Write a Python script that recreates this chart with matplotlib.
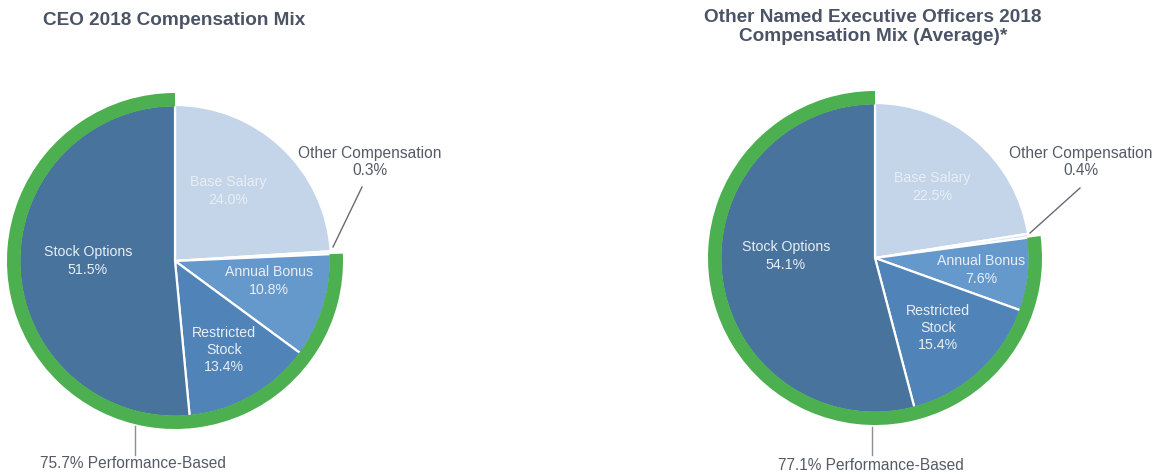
import matplotlib
matplotlib.use("Agg")
import matplotlib.pyplot as plt

# ---- data ----
categories = ["Base Salary", "Other Compensation", "Annual Bonus", "Restricted\nStock", "Stock Options"]
performance_based = [False, False, True, True, True]
ceo_values = [24.0, 0.3, 10.8, 13.4, 51.5]
neo_values = [22.5, 0.4, 7.6, 15.4, 54.1]
titles = ["CEO 2018 Compensation Mix",
          "Other Named Executive Officers 2018\nCompensation Mix (Average)*"]

# ---- style ----
W, H = 1160, 474
colors = ["#c4d5ea", "#dde6f1", "#6599cc", "#5084b8", "#48739c"]
green = "#4caf50"
title_color = "#4b5466"
text_gray = "#555b66"
label_white = "#e8eef6"
plt.rcParams["font.family"] = ["Liberation Sans", "DejaVu Sans"]

fig = plt.figure(figsize=(W / 100, H / 100), dpi=100)
ax = fig.add_axes([0, 0, 1, 1])
ax.set_xlim(0, W)
ax.set_ylim(0, H)
ax.set_aspect("equal")
ax.axis("off")


def Y(y):
    return H - y


layouts = [
    dict(center=(175, 261), r=156, ring_out=168,
         labels=[(228, 191), None, (269, 281), (224, 350), (88, 261)],
         other_text=(370, 162), other_line=((362, 187), (333, 247)),
         perf_text=(40, 463), perf_line=(135, 426, 455),
         title=(43, 20, "left")),
    dict(center=(875, 258), r=155, ring_out=167,
         labels=[(932, 187), None, (981, 270), (938, 328), (786, 256)],
         other_text=(1081, 162), other_line=((1080, 188), (1030, 233)),
         perf_text=(778, 465), perf_line=(872, 427, 455),
         title=(873, 27, "center")),
]

for values, title, L in zip([ceo_values, neo_values], titles, layouts):
    cx, cy = L["center"]
    c = (cx, Y(cy))
    wedges, _ = ax.pie(values, colors=colors, startangle=90, counterclock=False,
                       center=c, radius=L["r"], frame=True,
                       wedgeprops=dict(edgecolor="white", linewidth=1.6))
    for w in wedges:
        w.set_zorder(2)
    # performance-based ring
    nonperf = sum(v for v, p in zip(values, performance_based) if not p)
    perf = sum(v for v, p in zip(values, performance_based) if p)
    ring, _ = ax.pie([nonperf, perf], colors=["none", green], startangle=90, counterclock=False,
                     center=c, radius=L["ring_out"], frame=True,
                     wedgeprops=dict(width=L["ring_out"] - L["r"] + 1.5, edgecolor="none", linewidth=0))
    for w in ring:
        w.set_zorder(3)
    # in-slice labels
    for cat, v, pos in zip(categories, values, L["labels"]):
        if pos is None:
            continue
        ax.text(pos[0], Y(pos[1]), f"{cat}\n{v:.1f}%", ha="center", va="center",
                fontsize=10.2, color=label_white, linespacing=1.3, zorder=4)
    # other compensation callout
    ox, oy = L["other_text"]
    ax.text(ox, Y(oy), f"{categories[1]}\n{values[1]:.1f}%", ha="center", va="center",
            fontsize=11.2, color=text_gray, linespacing=1.2, zorder=4)
    (x1, y1), (x2, y2) = L["other_line"]
    ax.plot([x1, x2], [Y(y1), Y(y2)], color="#666b73", lw=1, zorder=4)
    # performance-based callout
    px, py1, py2 = L["perf_line"]
    ax.plot([px, px], [Y(py1), Y(py2)], color="#8a8f96", lw=1, zorder=4)
    tx, ty = L["perf_text"]
    ax.text(tx, Y(ty), f"{perf:.1f}% Performance-Based", ha="left", va="center",
            fontsize=11.2, color=text_gray, zorder=4)
    # title
    tx, ty, ha = L["title"]
    ax.text(tx, Y(ty), title, ha=ha, va="center", fontsize=13.7, fontweight="bold",
            color=title_color, linespacing=1.1, zorder=4)

ax.set_xlim(0, W)
ax.set_ylim(0, H)
ax.axis("off")
fig.savefig("out.png", dpi=100, facecolor="white")
